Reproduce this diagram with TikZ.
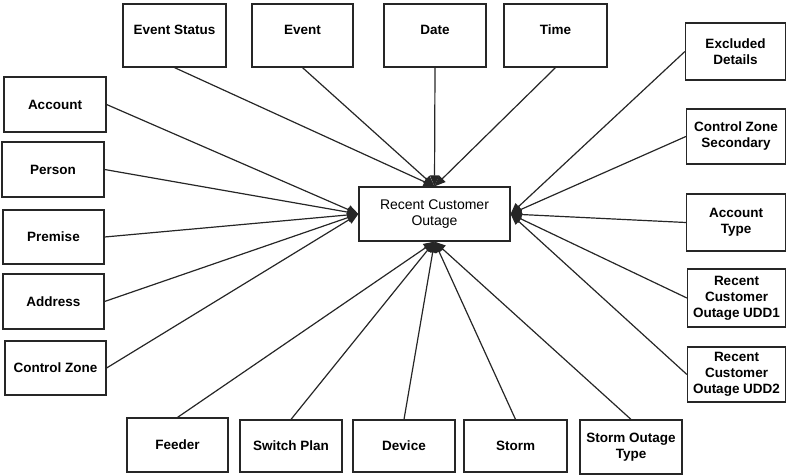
\documentclass[tikz,border=0pt]{standalone}
\usepackage{fontspec}
\setmainfont{Liberation Sans}
\usetikzlibrary{arrows.meta}
\begin{document}
\begin{tikzpicture}[x=1pt,y=-1pt,
  ent/.style={draw=black!85, line width=1.2pt, fill=white, align=center, inner sep=0pt,
    font=\bfseries\fontsize{13.5}{16}\selectfont},
  hub/.style={draw=black!85, line width=1.2pt, fill=white, align=center, inner sep=0pt,
    font=\fontsize{14}{16}\selectfont},
  link/.style={draw=black!85, line width=1.2pt, -{Triangle[length=11pt,width=9pt]}}]
\useasboundingbox (0,0) rectangle (787,476);
\node[hub, minimum width=151pt, minimum height=54pt] (c) at (434.5,214) {Recent Customer\\Outage};
% left
\node[ent, minimum width=102pt, minimum height=55pt] (acc) at (55,104.5) {Account};
\node[ent, minimum width=102pt, minimum height=55pt] (per) at (53,169.5) {Person};
\node[ent, minimum width=101pt, minimum height=54pt] (pre) at (53.5,237) {Premise};
\node[ent, minimum width=101pt, minimum height=55pt] (adr) at (53.5,301.5) {Address};
\node[ent, minimum width=101pt, minimum height=54pt] (cz) at (55.5,368) {Control Zone};
% top
\node[ent, minimum width=103pt, minimum height=63pt] (es) at (174.5,35.5) {Event Status\\[-5pt]};
\node[ent, minimum width=101pt, minimum height=63pt] (ev) at (302.5,35.5) {Event\\[-5pt]};
\node[ent, minimum width=102pt, minimum height=63pt] (dt) at (435,35.5) {Date\\[-5pt]};
\node[ent, minimum width=103pt, minimum height=63pt] (tm) at (555.5,35.5) {Time\\[-5pt]};
% right
\node[ent, minimum width=100pt, minimum height=57pt] (exd) at (735.5,51.5) {Excluded\\Details};
\node[ent, minimum width=99pt, minimum height=55pt] (czs) at (736,136.5) {Control Zone\\Secondary};
\node[ent, minimum width=99pt, minimum height=57pt] (at) at (736,222.5) {Account\\Type};
\node[ent, minimum width=98pt, minimum height=58pt] (u1) at (736.5,298) {Recent\\Customer\\Outage UDD1};
\node[ent, minimum width=98pt, minimum height=55pt] (u2) at (736.5,374.5) {Recent\\Customer\\Outage UDD2};
% bottom
\node[ent, minimum width=101pt, minimum height=54pt] (fd) at (177.5,445) {Feeder};
\node[ent, minimum width=102pt, minimum height=52pt] (sp) at (291,446) {Switch Plan};
\node[ent, minimum width=102pt, minimum height=52pt] (dv) at (404,446) {Device};
\node[ent, minimum width=103pt, minimum height=52pt] (st) at (515.5,446) {Storm};
\node[ent, minimum width=102pt, minimum height=54pt] (sot) at (631,447) {Storm Outage\\Type};
% connectors
\foreach \n in {acc,per,pre,adr,cz} \draw[link] (\n.east) -- (c.west);
\foreach \n in {es,ev,dt,tm} \draw[link] (\n.south) -- (c.north);
\foreach \n in {exd,czs,at,u1,u2} \draw[link] (\n.west) -- (c.east);
\foreach \n in {fd,sp,dv,st,sot} \draw[link] (\n.north) -- (c.south);
\end{tikzpicture}
\end{document}
